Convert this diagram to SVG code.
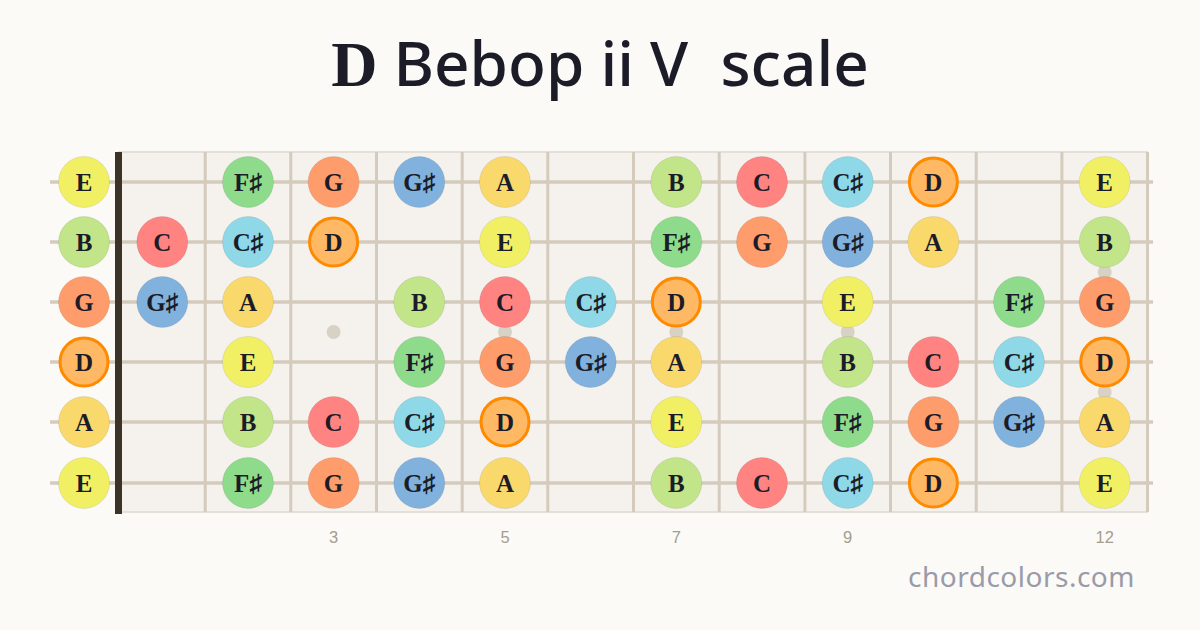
<svg xmlns="http://www.w3.org/2000/svg" width="1200" height="630" viewBox="0 0 1200 630">
<style>
.n{stroke:#000;stroke-opacity:0.08;stroke-width:1}
.root{stroke:#ff8a00;stroke-width:3}
.t{font-family:"Liberation Serif",serif;font-weight:bold;font-size:25px;fill:#1c1c28;text-anchor:middle}
.fret{stroke:#d4cbbd;stroke-width:3}
.str{stroke:#d4cbbd;stroke-width:3.5}
.dot{fill:#d8d2c6}
.num{font-family:"Liberation Sans",sans-serif;font-size:16.5px;fill:#a39d90;text-anchor:middle}
.E{fill:#f1f065}.Fs{fill:#8edc8b}.G{fill:#ff9c6c}.Gs{fill:#81b2de}.A{fill:#f9d86c}.B{fill:#c1e588}.C{fill:#ff8380}.Cs{fill:#8ed8e8}.D{fill:#ffb864}
</style>
<rect width="1200" height="630" fill="#fbfaf7"/>
<text x="600" y="86" font-size="62" fill="#1c1c28" text-anchor="middle" xml:space="preserve"><tspan font-family="Liberation Serif, serif" font-weight="bold" font-size="64">D</tspan><tspan font-family="Noto Sans, sans-serif" font-weight="500"> Bebop ii V  scale</tspan></text>
<g id="fretboard">
<rect x="119" y="152" width="1028" height="360" fill="#f5f2ee" stroke="#e4dfd7" stroke-width="2"/>
<g class="fret-lines">
<line class="fret" x1="205.2" y1="152" x2="205.2" y2="512"/>
<line class="fret" x1="290.8" y1="152" x2="290.8" y2="512"/>
<line class="fret" x1="376.5" y1="152" x2="376.5" y2="512"/>
<line class="fret" x1="462.2" y1="152" x2="462.2" y2="512"/>
<line class="fret" x1="547.8" y1="152" x2="547.8" y2="512"/>
<line class="fret" x1="633.5" y1="152" x2="633.5" y2="512"/>
<line class="fret" x1="719.2" y1="152" x2="719.2" y2="512"/>
<line class="fret" x1="804.9" y1="152" x2="804.9" y2="512"/>
<line class="fret" x1="890.5" y1="152" x2="890.5" y2="512"/>
<line class="fret" x1="976.2" y1="152" x2="976.2" y2="512"/>
<line class="fret" x1="1061.9" y1="152" x2="1061.9" y2="512"/>
<line class="fret" x1="1147.5" y1="152" x2="1147.5" y2="512"/>
</g>
<g class="dots">
<circle class="dot" cx="333.6" cy="332" r="7"/>
<circle class="dot" cx="505" cy="332" r="7"/>
<circle class="dot" cx="676.3" cy="332" r="7"/>
<circle class="dot" cx="847.7" cy="332" r="7"/>
<circle class="dot" cx="1104.7" cy="272" r="7"/>
<circle class="dot" cx="1104.7" cy="392" r="7"/>
</g>
<g class="strings">
<line class="str" x1="50" y1="182" x2="1153" y2="182"/>
<line class="str" x1="50" y1="242" x2="1153" y2="242"/>
<line class="str" x1="50" y1="302" x2="1153" y2="302"/>
<line class="str" x1="50" y1="362" x2="1153" y2="362"/>
<line class="str" x1="50" y1="422" x2="1153" y2="422"/>
<line class="str" x1="50" y1="483" x2="1153" y2="483"/>
</g>
<rect id="nut" x="115" y="152" width="7" height="362" fill="#3a3326"/>
</g>
<g id="fret-numbers">
<text class="num" x="333.6" y="543">3</text>
<text class="num" x="505" y="543">5</text>
<text class="num" x="676.3" y="543">7</text>
<text class="num" x="847.7" y="543">9</text>
<text class="num" x="1104.7" y="543">12</text>
</g>
<g id="notes">
<g id="s1">
<g id="s1-0"><circle class="n E" cx="84" cy="182" r="25.5"/><text class="t" x="84" y="191">E</text></g>
<g id="s1-2"><circle class="n Fs" cx="248" cy="182" r="25.5"/><text class="t" x="248" y="191">F♯</text></g>
<g id="s1-3"><circle class="n G" cx="333.6" cy="182" r="25.5"/><text class="t" x="333.6" y="191">G</text></g>
<g id="s1-4"><circle class="n Gs" cx="419.3" cy="182" r="25.5"/><text class="t" x="419.3" y="191">G♯</text></g>
<g id="s1-5"><circle class="n A" cx="505" cy="182" r="25.5"/><text class="t" x="505" y="191">A</text></g>
<g id="s1-7"><circle class="n B" cx="676.3" cy="182" r="25.5"/><text class="t" x="676.3" y="191">B</text></g>
<g id="s1-8"><circle class="n C" cx="762" cy="182" r="25.5"/><text class="t" x="762" y="191">C</text></g>
<g id="s1-9"><circle class="n Cs" cx="847.7" cy="182" r="25.5"/><text class="t" x="847.7" y="191">C♯</text></g>
<g id="s1-10"><circle class="root D" cx="933.4" cy="182" r="24"/><text class="t" x="933.4" y="191">D</text></g>
<g id="s1-12"><circle class="n E" cx="1104.7" cy="182" r="25.5"/><text class="t" x="1104.7" y="191">E</text></g>
</g>
<g id="s2">
<g id="s2-0"><circle class="n B" cx="84" cy="242" r="25.5"/><text class="t" x="84" y="251">B</text></g>
<g id="s2-1"><circle class="n C" cx="162.3" cy="242" r="25.5"/><text class="t" x="162.3" y="251">C</text></g>
<g id="s2-2"><circle class="n Cs" cx="248" cy="242" r="25.5"/><text class="t" x="248" y="251">C♯</text></g>
<g id="s2-3"><circle class="root D" cx="333.6" cy="242" r="24"/><text class="t" x="333.6" y="251">D</text></g>
<g id="s2-5"><circle class="n E" cx="505" cy="242" r="25.5"/><text class="t" x="505" y="251">E</text></g>
<g id="s2-7"><circle class="n Fs" cx="676.3" cy="242" r="25.5"/><text class="t" x="676.3" y="251">F♯</text></g>
<g id="s2-8"><circle class="n G" cx="762" cy="242" r="25.5"/><text class="t" x="762" y="251">G</text></g>
<g id="s2-9"><circle class="n Gs" cx="847.7" cy="242" r="25.5"/><text class="t" x="847.7" y="251">G♯</text></g>
<g id="s2-10"><circle class="n A" cx="933.4" cy="242" r="25.5"/><text class="t" x="933.4" y="251">A</text></g>
<g id="s2-12"><circle class="n B" cx="1104.7" cy="242" r="25.5"/><text class="t" x="1104.7" y="251">B</text></g>
</g>
<g id="s3">
<g id="s3-0"><circle class="n G" cx="84" cy="302" r="25.5"/><text class="t" x="84" y="311">G</text></g>
<g id="s3-1"><circle class="n Gs" cx="162.3" cy="302" r="25.5"/><text class="t" x="162.3" y="311">G♯</text></g>
<g id="s3-2"><circle class="n A" cx="248" cy="302" r="25.5"/><text class="t" x="248" y="311">A</text></g>
<g id="s3-4"><circle class="n B" cx="419.3" cy="302" r="25.5"/><text class="t" x="419.3" y="311">B</text></g>
<g id="s3-5"><circle class="n C" cx="505" cy="302" r="25.5"/><text class="t" x="505" y="311">C</text></g>
<g id="s3-6"><circle class="n Cs" cx="590.7" cy="302" r="25.5"/><text class="t" x="590.7" y="311">C♯</text></g>
<g id="s3-7"><circle class="root D" cx="676.3" cy="302" r="24"/><text class="t" x="676.3" y="311">D</text></g>
<g id="s3-9"><circle class="n E" cx="847.7" cy="302" r="25.5"/><text class="t" x="847.7" y="311">E</text></g>
<g id="s3-11"><circle class="n Fs" cx="1019" cy="302" r="25.5"/><text class="t" x="1019" y="311">F♯</text></g>
<g id="s3-12"><circle class="n G" cx="1104.7" cy="302" r="25.5"/><text class="t" x="1104.7" y="311">G</text></g>
</g>
<g id="s4">
<g id="s4-0"><circle class="root D" cx="84" cy="362" r="24"/><text class="t" x="84" y="371">D</text></g>
<g id="s4-2"><circle class="n E" cx="248" cy="362" r="25.5"/><text class="t" x="248" y="371">E</text></g>
<g id="s4-4"><circle class="n Fs" cx="419.3" cy="362" r="25.5"/><text class="t" x="419.3" y="371">F♯</text></g>
<g id="s4-5"><circle class="n G" cx="505" cy="362" r="25.5"/><text class="t" x="505" y="371">G</text></g>
<g id="s4-6"><circle class="n Gs" cx="590.7" cy="362" r="25.5"/><text class="t" x="590.7" y="371">G♯</text></g>
<g id="s4-7"><circle class="n A" cx="676.3" cy="362" r="25.5"/><text class="t" x="676.3" y="371">A</text></g>
<g id="s4-9"><circle class="n B" cx="847.7" cy="362" r="25.5"/><text class="t" x="847.7" y="371">B</text></g>
<g id="s4-10"><circle class="n C" cx="933.4" cy="362" r="25.5"/><text class="t" x="933.4" y="371">C</text></g>
<g id="s4-11"><circle class="n Cs" cx="1019" cy="362" r="25.5"/><text class="t" x="1019" y="371">C♯</text></g>
<g id="s4-12"><circle class="root D" cx="1104.7" cy="362" r="24"/><text class="t" x="1104.7" y="371">D</text></g>
</g>
<g id="s5">
<g id="s5-0"><circle class="n A" cx="84" cy="422" r="25.5"/><text class="t" x="84" y="431">A</text></g>
<g id="s5-2"><circle class="n B" cx="248" cy="422" r="25.5"/><text class="t" x="248" y="431">B</text></g>
<g id="s5-3"><circle class="n C" cx="333.6" cy="422" r="25.5"/><text class="t" x="333.6" y="431">C</text></g>
<g id="s5-4"><circle class="n Cs" cx="419.3" cy="422" r="25.5"/><text class="t" x="419.3" y="431">C♯</text></g>
<g id="s5-5"><circle class="root D" cx="505" cy="422" r="24"/><text class="t" x="505" y="431">D</text></g>
<g id="s5-7"><circle class="n E" cx="676.3" cy="422" r="25.5"/><text class="t" x="676.3" y="431">E</text></g>
<g id="s5-9"><circle class="n Fs" cx="847.7" cy="422" r="25.5"/><text class="t" x="847.7" y="431">F♯</text></g>
<g id="s5-10"><circle class="n G" cx="933.4" cy="422" r="25.5"/><text class="t" x="933.4" y="431">G</text></g>
<g id="s5-11"><circle class="n Gs" cx="1019" cy="422" r="25.5"/><text class="t" x="1019" y="431">G♯</text></g>
<g id="s5-12"><circle class="n A" cx="1104.7" cy="422" r="25.5"/><text class="t" x="1104.7" y="431">A</text></g>
</g>
<g id="s6">
<g id="s6-0"><circle class="n E" cx="84" cy="483" r="25.5"/><text class="t" x="84" y="492">E</text></g>
<g id="s6-2"><circle class="n Fs" cx="248" cy="483" r="25.5"/><text class="t" x="248" y="492">F♯</text></g>
<g id="s6-3"><circle class="n G" cx="333.6" cy="483" r="25.5"/><text class="t" x="333.6" y="492">G</text></g>
<g id="s6-4"><circle class="n Gs" cx="419.3" cy="483" r="25.5"/><text class="t" x="419.3" y="492">G♯</text></g>
<g id="s6-5"><circle class="n A" cx="505" cy="483" r="25.5"/><text class="t" x="505" y="492">A</text></g>
<g id="s6-7"><circle class="n B" cx="676.3" cy="483" r="25.5"/><text class="t" x="676.3" y="492">B</text></g>
<g id="s6-8"><circle class="n C" cx="762" cy="483" r="25.5"/><text class="t" x="762" y="492">C</text></g>
<g id="s6-9"><circle class="n Cs" cx="847.7" cy="483" r="25.5"/><text class="t" x="847.7" y="492">C♯</text></g>
<g id="s6-10"><circle class="root D" cx="933.4" cy="483" r="24"/><text class="t" x="933.4" y="492">D</text></g>
<g id="s6-12"><circle class="n E" cx="1104.7" cy="483" r="25.5"/><text class="t" x="1104.7" y="492">E</text></g>
</g>
</g>
<text x="1135" y="587" font-family="Noto Sans, sans-serif" font-size="28" fill="#9a9aa8" text-anchor="end" letter-spacing="0.5">chordcolors.com</text>
</svg>
